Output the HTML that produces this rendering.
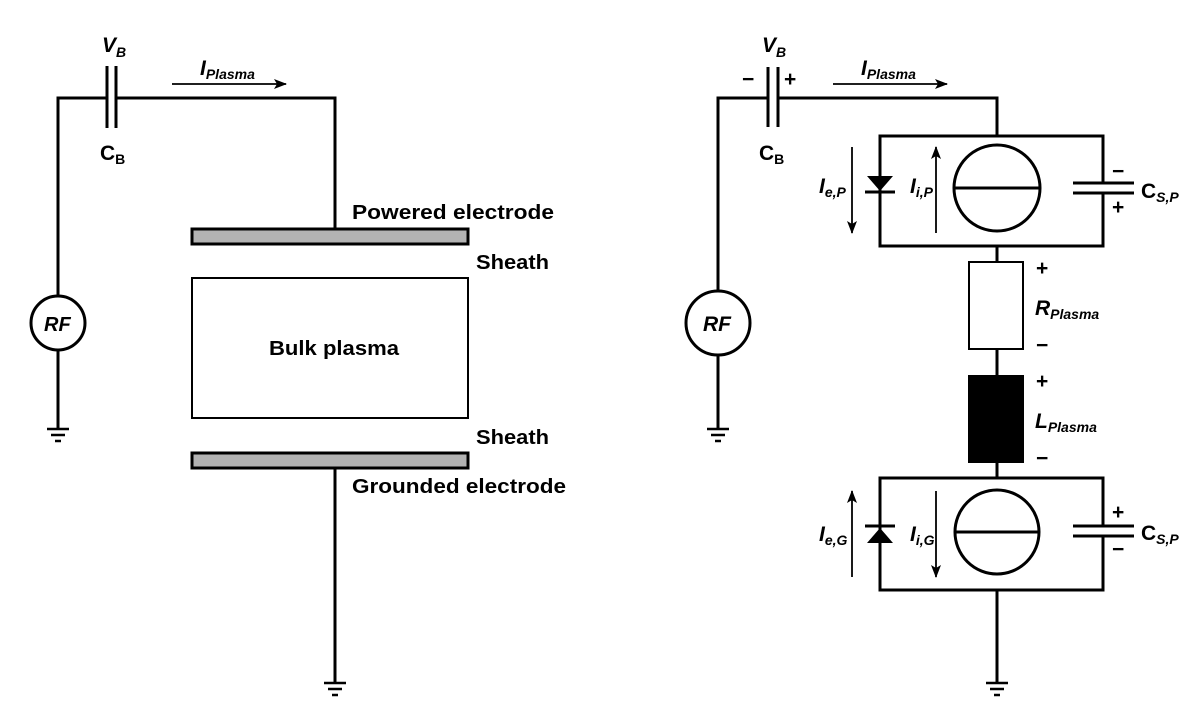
<!DOCTYPE html>
<html><head><meta charset="utf-8"><style>
html,body{margin:0;padding:0;background:#fff;}
svg{display:block;}
text{font-family:"Liberation Sans",sans-serif;font-weight:bold;fill:#000;}
</style></head><body>
<svg width="1200" height="723" viewBox="0 0 1200 723" xmlns="http://www.w3.org/2000/svg">
<defs>
<marker id="ah" markerWidth="13" markerHeight="10" refX="12" refY="5" orient="auto" markerUnits="userSpaceOnUse">
<path d="M0,0 L13,5 L0,10 L3,5 Z" fill="#000"/>
</marker>
</defs>
<g stroke="#000" stroke-width="3" fill="none">
<!-- LEFT -->
<polyline points="58,296 58,98 107,98"/>
<polyline points="116,98 335,98 335,229"/>
<line x1="107" y1="66" x2="107" y2="128"/>
<line x1="116" y1="66" x2="116" y2="128"/>
<circle cx="58" cy="323" r="27" fill="#fff"/>
<line x1="58" y1="350" x2="58" y2="428"/>
<rect x="192" y="229" width="276" height="15" fill="#b3b3b3"/>
<rect x="192" y="278" width="276" height="140" stroke-width="2"/>
<rect x="192" y="453" width="276" height="15" fill="#b3b3b3"/>
<line x1="335" y1="468" x2="335" y2="682"/>
<!-- RIGHT -->
<polyline points="718,291 718,98 768,98"/>
<polyline points="778,98 997,98 997,136"/>
<line x1="768" y1="67" x2="768" y2="127"/>
<line x1="778" y1="67" x2="778" y2="127"/>
<circle cx="718" cy="323" r="32" fill="#fff"/>
<line x1="718" y1="355" x2="718" y2="428"/>
<polyline points="1103,183 1103,136 880,136 880,246 1103,246 1103,193"/>
<circle cx="997" cy="188" r="43" fill="#fff"/>
<line x1="954" y1="188" x2="1040" y2="188"/>
<line x1="865" y1="192" x2="895" y2="192"/>
<line x1="1073" y1="183" x2="1134" y2="183"/>
<line x1="1073" y1="193" x2="1134" y2="193"/>
<line x1="997" y1="246" x2="997" y2="262"/>
<rect x="969" y="262" width="54" height="87" stroke-width="2"/>
<line x1="997" y1="349" x2="997" y2="375"/>
<line x1="997" y1="463" x2="997" y2="478"/>
<polyline points="1103,526 1103,478 880,478 880,590 1103,590 1103,536"/>
<circle cx="997" cy="532" r="42" fill="#fff"/>
<line x1="955" y1="532" x2="1039" y2="532"/>
<line x1="865" y1="526" x2="895" y2="526"/>
<line x1="1073" y1="526" x2="1134" y2="526"/>
<line x1="1073" y1="536" x2="1134" y2="536"/>
<line x1="997" y1="590" x2="997" y2="682"/>
</g>
<rect x="968" y="375" width="56" height="88" fill="#000"/>
<path d="M867,176 L893,176 L880,191 Z" fill="#000"/>
<path d="M867,543 L893,543 L880,528 Z" fill="#000"/>
<!-- thin arrows -->
<g stroke="#000" stroke-width="1.8" fill="none">
<line x1="172" y1="84" x2="286" y2="84" marker-end="url(#ah)"/>
<line x1="833" y1="84" x2="947" y2="84" marker-end="url(#ah)"/>
<line x1="852" y1="147" x2="852" y2="233" marker-end="url(#ah)"/>
<line x1="936" y1="233" x2="936" y2="147" marker-end="url(#ah)"/>
<line x1="852" y1="577" x2="852" y2="491" marker-end="url(#ah)"/>
<line x1="936" y1="491" x2="936" y2="577" marker-end="url(#ah)"/>
</g>
<!-- grounds -->
<g stroke="#000" stroke-width="2.5">
<line x1="47" y1="429" x2="69" y2="429"/><line x1="51" y1="435" x2="65" y2="435"/><line x1="55" y1="441" x2="61" y2="441"/>
<line x1="707" y1="429" x2="729" y2="429"/><line x1="711" y1="435" x2="725" y2="435"/><line x1="715" y1="441" x2="721" y2="441"/>
<line x1="324" y1="683" x2="346" y2="683"/><line x1="328" y1="689" x2="342" y2="689"/><line x1="332" y1="695" x2="338" y2="695"/>
<line x1="986" y1="683" x2="1008" y2="683"/><line x1="990" y1="689" x2="1004" y2="689"/><line x1="994" y1="695" x2="1000" y2="695"/>
</g>
<!-- LEFT labels -->
<text x="102" y="52" font-size="21" font-style="italic">V<tspan font-size="14" dy="5">B</tspan></text>
<text x="100" y="160" font-size="21">C<tspan font-size="14" dy="4">B</tspan></text>
<text x="200" y="75" font-size="21" font-style="italic">I<tspan font-size="14" dy="4">Plasma</tspan></text>
<text x="44" y="331" font-size="20" font-style="italic">RF</text>
<text x="352" y="219" font-size="20" textLength="202" lengthAdjust="spacingAndGlyphs">Powered electrode</text>
<text x="476" y="269" font-size="20" textLength="73" lengthAdjust="spacingAndGlyphs">Sheath</text>
<text x="269" y="355" font-size="20" textLength="130" lengthAdjust="spacingAndGlyphs">Bulk plasma</text>
<text x="476" y="444" font-size="20" textLength="73" lengthAdjust="spacingAndGlyphs">Sheath</text>
<text x="352" y="493" font-size="20" textLength="214" lengthAdjust="spacingAndGlyphs">Grounded electrode</text>
<!-- RIGHT labels -->
<text x="762" y="52" font-size="21" font-style="italic">V<tspan font-size="14" dy="5">B</tspan></text>
<text x="742" y="86" font-size="21">−</text>
<text x="784" y="86" font-size="21">+</text>
<text x="759" y="160" font-size="21">C<tspan font-size="14" dy="4">B</tspan></text>
<text x="861" y="75" font-size="21" font-style="italic">I<tspan font-size="14" dy="4">Plasma</tspan></text>
<text x="703" y="331" font-size="21" font-style="italic">RF</text>
<text x="819" y="193" font-size="21" font-style="italic">I<tspan font-size="14" dy="4">e,P</tspan></text>
<text x="910" y="193" font-size="21" font-style="italic">I<tspan font-size="14" dy="4">i,P</tspan></text>
<text x="1112" y="178" font-size="21">−</text>
<text x="1112" y="214" font-size="21">+</text>
<text x="1141" y="198" font-size="21">C<tspan font-size="14" dy="4" font-style="italic">S,P</tspan></text>
<text x="1036" y="275" font-size="21">+</text>
<text x="1035" y="315" font-size="21" font-style="italic">R<tspan font-size="14" dy="4">Plasma</tspan></text>
<text x="1036" y="352" font-size="21">−</text>
<text x="1036" y="388" font-size="21">+</text>
<text x="1035" y="428" font-size="21" font-style="italic">L<tspan font-size="14" dy="4">Plasma</tspan></text>
<text x="1036" y="465" font-size="21">−</text>
<text x="819" y="541" font-size="21" font-style="italic">I<tspan font-size="14" dy="4">e,G</tspan></text>
<text x="910" y="541" font-size="21" font-style="italic">I<tspan font-size="14" dy="4">i,G</tspan></text>
<text x="1112" y="519" font-size="21">+</text>
<text x="1112" y="556" font-size="21">−</text>
<text x="1141" y="540" font-size="21">C<tspan font-size="14" dy="4" font-style="italic">S,P</tspan></text>
</svg>
</body></html>
